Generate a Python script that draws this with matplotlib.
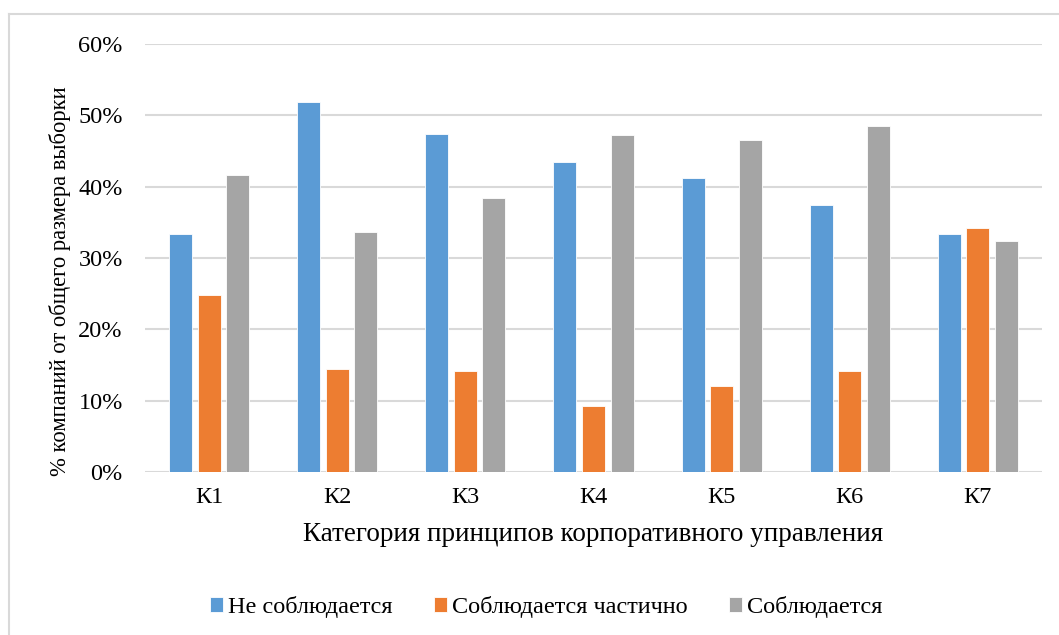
import numpy as np
import matplotlib
matplotlib.use("Agg")
from matplotlib import pyplot as plt
from matplotlib.lines import Line2D

categories = ["К1", "К2", "К3", "К4", "К5", "К6", "К7"]
not_observed = [33.4, 51.9, 47.4, 43.4, 41.2, 37.4, 33.3]
partly_observed = [24.8, 14.4, 14.1, 9.2, 12.1, 14.1, 34.2]
observed = [41.7, 33.6, 38.4, 47.3, 46.6, 48.5, 32.4]
series_names = ["Не соблюдается", "Соблюдается частично", "Соблюдается"]
colors = ["#5b9bd5", "#ed7d31", "#a5a5a5"]

plt.rcParams['font.family'] = ['Liberation Serif', 'DejaVu Serif']

W, H = 1059, 635
fig = plt.figure(figsize=(W / 100, H / 100), dpi=100)
ax = fig.add_axes([145 / W, 1 - 472 / H, (1042 - 145) / W, (472 - 44) / H])

x = np.arange(len(categories))
offsets = [-0.223, 0, 0.223]
for vals, off, c, name in zip([not_observed, partly_observed, observed], offsets, colors, series_names):
    ax.bar(x + off, vals, width=0.18, color=c, edgecolor="white", linewidth=0.6, label=name, zorder=3)

ax.set_xlim(-0.5, len(categories) - 0.5)
ax.set_ylim(0, 60)
ax.set_yticks(np.arange(0, 61, 10))
ax.set_yticklabels([f"{v}%" for v in range(0, 61, 10)])
ax.set_xticks(x)
ax.set_xticklabels(categories)
ax.yaxis.grid(True, color="#d9d9d9", linewidth=1.5, zorder=0)
ax.set_axisbelow(True)
for s in ax.spines.values():
    s.set_visible(False)
ax.tick_params(axis="both", length=0, labelsize=17.5)
ax.tick_params(axis="y", pad=16)
ax.tick_params(axis="x", pad=11)

ax.set_xlabel("Категория принципов корпоративного управления", fontsize=19.5, labelpad=10)
ax.set_ylabel("% компаний от общего размера выборки", fontsize=16.3)
ax.yaxis.set_label_coords(-0.083, 0.445)

ax.legend(loc="center", bbox_to_anchor=(546 / W, 1 - 607 / H), bbox_transform=fig.transFigure,
          ncol=3, frameon=False, fontsize=17.5, handlelength=0.55, handleheight=0.55,
          handletextpad=0.2, columnspacing=1.7)

# outer chart frame
fig.add_artist(Line2D([9 / W, 9 / W], [0, 1 - 14 / H], color="#d9d9d9", linewidth=1.5))
fig.add_artist(Line2D([9 / W, 1], [1 - 14 / H, 1 - 14 / H], color="#d9d9d9", linewidth=1.5))

fig.savefig("out.png", dpi=100)
